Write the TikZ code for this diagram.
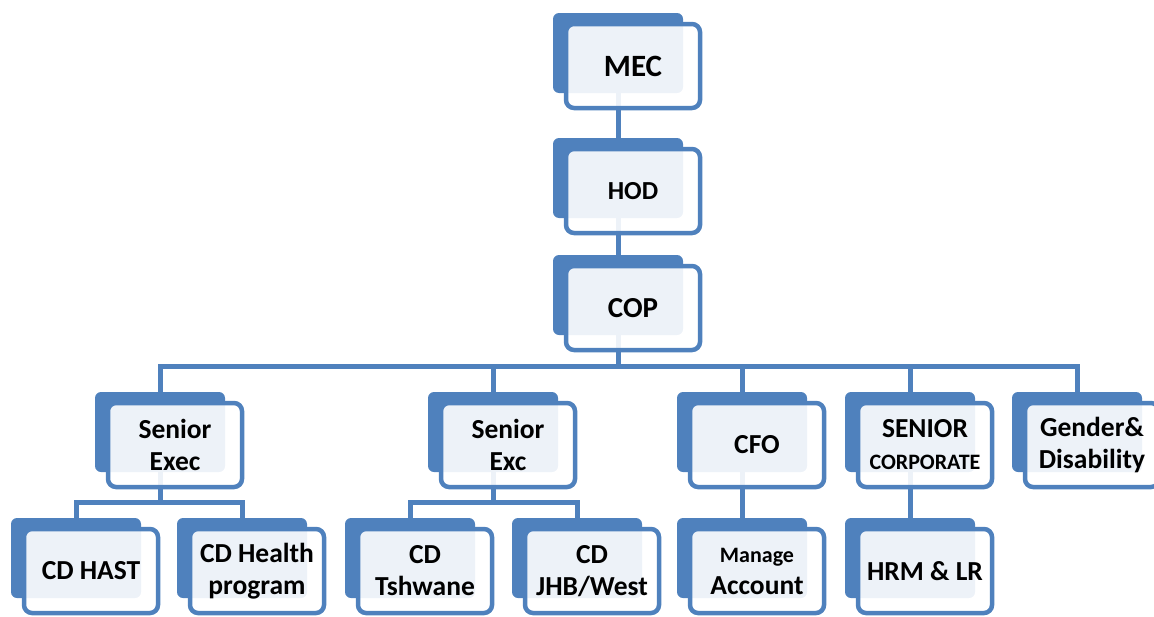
\documentclass[tikz,border=0pt]{standalone}
\usepackage{fontspec}
\setmainfont{Carlito}
\definecolor{boxblue}{RGB}{79,129,189}

\begin{document}
\begin{tikzpicture}
  [x=1pt,y=-1pt,
   back/.style={rectangle,rounded corners=6pt,fill=boxblue,minimum width=130pt,minimum height=80pt,inner sep=0pt},
   front/.style={rectangle,rounded corners=8pt,draw=boxblue,line width=4.5pt,fill=white,fill opacity=.9,text opacity=1,
     minimum width=134pt,minimum height=84pt,inner sep=0pt,align=center,font=\bfseries\fontsize{27.5}{32}\selectfont},
   link/.style={draw=boxblue,line width=5pt}]
  \useasboundingbox (0,0) rectangle (1154,616);
  \clip (0,0) rectangle (1154,616);
  % back boxes
  \node[back] (mec) at (618,53) {};
  \node[back] (hod) at (618,178) {};
  \node[back] (cop) at (618,295) {};
  \node[back] (sexec) at (160,432) {};
  \node[back] (sexc) at (493,432) {};
  \node[back] (cfo) at (742,432) {};
  \node[back] (corp) at (910,432) {};
  \node[back] (gender) at (1077,432) {};
  \node[back] (hast) at (76,558) {};
  \node[back] (health) at (242,558) {};
  \node[back] (tshwane) at (410,558) {};
  \node[back] (jhb) at (577,558) {};
  \node[back] (acc) at (742,558) {};
  \node[back] (hrm) at (910,558) {};
  % connectors
  \foreach \from/\to in {mec/hod,hod/cop,cfo/acc,corp/hrm}
    \draw[link] (\from) -- (\to);
  \foreach \to in {sexec,sexc,cfo,corp,gender}
    \draw[link] (cop.south) -- ++(0,31) -| (\to.north);
  \foreach \from/\to in {sexec/hast,sexec/health,sexc/tshwane,sexc/jhb}
    \draw[link] (\from.south) -- ++(0,30) -| (\to.north);
  % front boxes
  \node[front] (mect) at (633,66) {\fontsize{31}{36}\selectfont MEC};
  \node[front] (hodt) at (633,191) {\fontsize{26}{30}\selectfont HOD};
  \node[front] (copt) at (633,308) {\fontsize{29}{34}\selectfont COP};
  \node[front] (sexect) at (175,445) {Senior\\Exec};
  \node[front] (sexct) at (508,445) {Senior\\Exc};
  \node[front] (cfot) at (757,445) {CFO};
  \node[front] (corpt) at (925,445) {SENIOR\\{\fontsize{22}{26}\selectfont CORPORATE}};
  \node[front] (gendert) at (1092,445) {Gender\&\\Disability};
  \node[front] (hastt) at (91,571) {CD HAST};
  \node[front] (healtht) at (257,571) {CD Health\\program};
  \node[front] (tshwanet) at (425,571) {CD\\Tshwane};
  \node[front] (jhbt) at (592,571) {CD\\JHB/West};
  \node[front] (acct) at (757,571) {{\fontsize{22}{26}\selectfont Manage}\\Account};
  \node[front] (hrmt) at (925,571) {HRM \& LR};
\end{tikzpicture}
\end{document}
